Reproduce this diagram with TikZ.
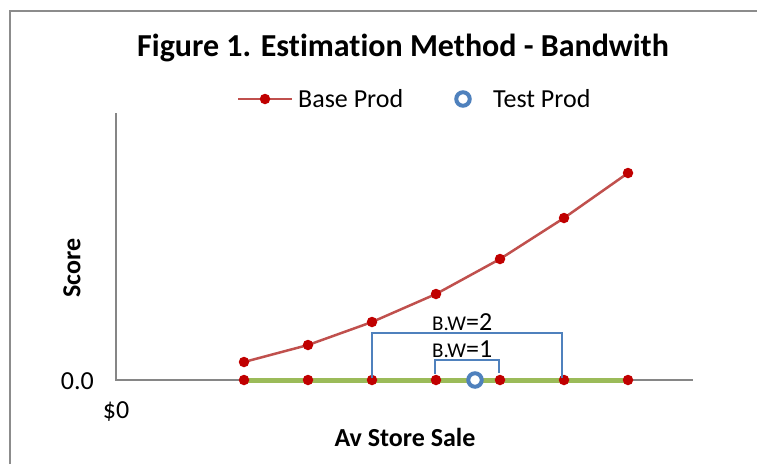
\documentclass[tikz,border=0pt]{standalone}
\usepackage{fontspec}
\setmainfont{Carlito}[Ligatures=NoCommon]
\definecolor{framegray}{HTML}{8C8C8C}
\definecolor{axisgray}{HTML}{868686}
\definecolor{basered}{HTML}{C0504D}
\definecolor{basedot}{HTML}{C00000}
\definecolor{testblue}{HTML}{4F81BD}
\definecolor{flatgreen}{HTML}{9BBB59}
\tikzset{
  pt/.style={circle,fill=basedot,inner sep=0pt,minimum size=10.5pt},
  testpt/.style={circle,draw=testblue,line width=4pt,fill=white,inner sep=0pt,minimum size=13.5pt},
  bw/.style={draw=testblue,line width=1.6pt},
  lbl/.style={font=\fontsize{26}{30}\selectfont,inner sep=0pt},
  boldlbl/.style={font=\fontsize{26}{30}\selectfont\bfseries,inner sep=0pt},
}
\begin{document}
\begin{tikzpicture}[x=1pt,y=-1pt]
\useasboundingbox (0,0) rectangle (757,464);
% chart frame
\draw[framegray,line width=2pt] (10,464) -- (10,11) -- (757,11);
% title
\node[font=\fontsize{32}{38}\selectfont\bfseries,inner sep=0pt] (title) at (403,48) {Figure 1. Estimation Method - Bandwith};
% legend
\coordinate (l1) at (238,99);
\coordinate (l2) at (292,99);
\draw[basered,line width=2.5pt] (l1) -- (l2);
\node[pt] (ldot) at (265,99) {};
\node[lbl,anchor=west] (lbase) at (298,99) {Base Prod};
\node[testpt] (ltest) at (463,99) {};
\node[lbl,anchor=west] (ltxt) at (493,99) {Test Prod};
% axes
\coordinate (o) at (116,380);
\coordinate (ytop) at (116,113);
\coordinate (xend) at (693,380);
\draw[axisgray,line width=2pt] (ytop) -- (o) -- (xend);
\node[lbl,anchor=east] (y0) at (94,381) {0.0};
\node[lbl] (x0) at (116,412) {\$0};
\node[boldlbl,rotate=90] (ylab) at (72,268) {Score};
\node[boldlbl] (xlab) at (405,437) {Av Store Sale};
% flat series
\coordinate (g1) at (244,380);
\coordinate (g7) at (628,380);
\draw[flatgreen,line width=5pt] (g1) -- (g7);
% base product curve
\draw[basered,line width=2.5pt] (244,362) -- (308,345) -- (372,322) -- (436,294) -- (500,259) -- (564,218) -- (628,173);
\foreach \x/\y [count=\i] in {244/362,308/345,372/322,436/294,500/259,564/218,628/173}{
  \node[pt] (b\i) at (\x,\y) {};
  \node[pt] (f\i) at (\x,380) {};
}
% bandwidth brackets
\draw[bw] (372,378) -- (372,333) -- (562,333) -- (562,378);
\draw[bw] (435,374) -- (435,360) -- (499,360) -- (499,373);
\node[anchor=base west,inner sep=0pt,font=\fontsize{26}{30}\selectfont] (bw2) at (432,330) {{\fontsize{21}{24}\selectfont B.W}=2};
\node[anchor=base west,inner sep=0pt,font=\fontsize{26}{30}\selectfont] (bw1) at (432,357) {{\fontsize{21}{24}\selectfont B.W}=1};
% test product
\node[testpt] (test) at (475,380) {};
\end{tikzpicture}
\end{document}
